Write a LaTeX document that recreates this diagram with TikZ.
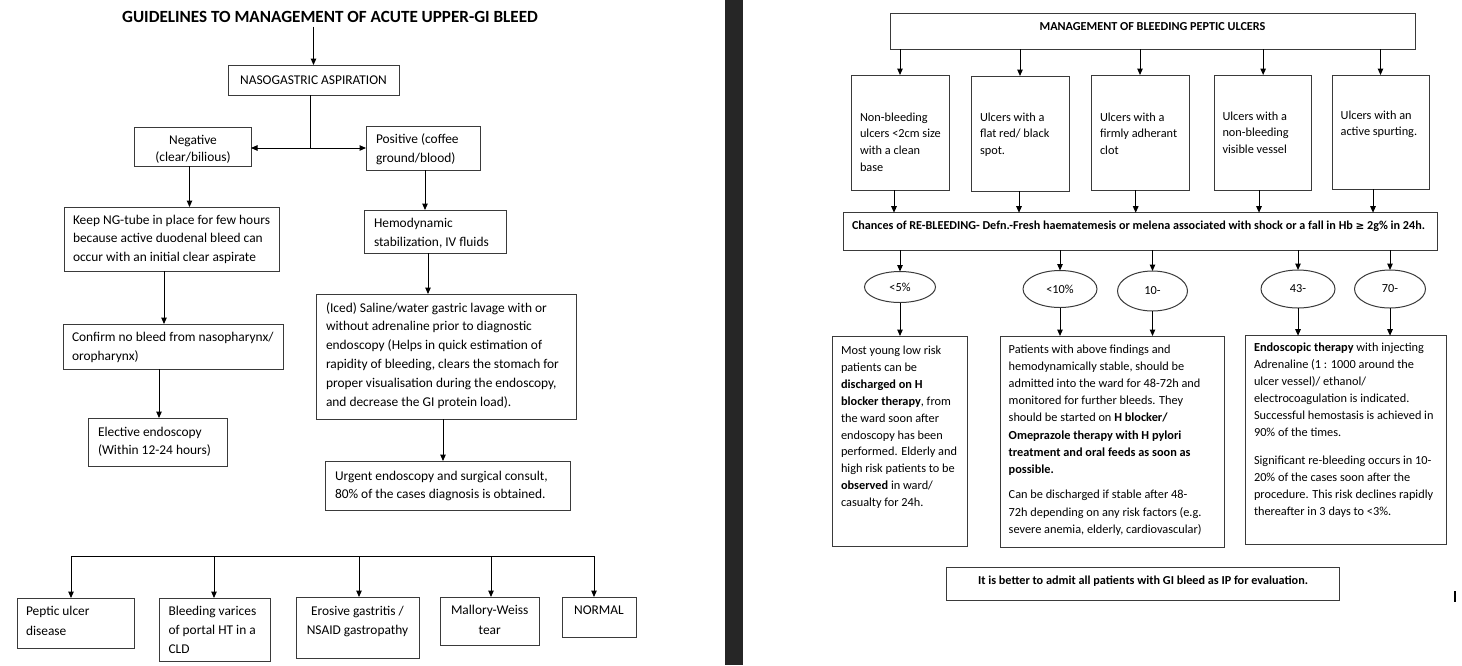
\documentclass[tikz,border=0pt]{standalone}
\usepackage{fontspec}
\setmainfont{Carlito}
\newfontfamily\symfont{DejaVu Sans}
\usetikzlibrary{arrows.meta,shapes.geometric,fit}
\definecolor{boxc}{HTML}{3A3A3A}
\definecolor{barc}{HTML}{262626}
\newcommand\bodyf[1]{\fontsize{13.4}{#1}\selectfont}
\newcommand\rbodyf[1]{\fontsize{12.3}{#1}\selectfont}
\newcommand\mybox[5]{\path (#2,#3) coordinate (#1-nw) (#4,#5) coordinate (#1-se); \node[box, fit=(#1-nw)(#1-se)] (#1) {};}
\begin{document}
\begin{tikzpicture}[x=1pt,y=-1pt,
 box/.style={draw=boxc,line width=1pt,inner sep=0pt,outer sep=0pt},
 arr/.style={draw=black,line width=1pt,-{Triangle[length=6.5pt,width=5.5pt]}},
 dbl/.style={draw=black,line width=1pt,{Triangle[length=6.5pt,width=5.5pt]}-{Triangle[length=6.5pt,width=5.5pt]}},
 ln/.style={draw=black,line width=1pt},
 tl/.style={inner sep=0pt,outer sep=0pt,anchor=base west,align=left},
 tc/.style={inner sep=0pt,outer sep=0pt,anchor=base,align=center},
 oval/.style={ellipse,draw=boxc,line width=1pt,inner sep=0pt,outer sep=0pt,font=\rbodyf{16}}
]
\useasboundingbox (0,0) rectangle (1462,665);
\fill[white] (0,0) rectangle (1462,665);
\fill[barc] (725,0) rectangle (743,665);

% ---------------- LEFT ----------------
% (text nodes are placed at the baseline of their LAST line)
\node[tc,font=\bfseries\fontsize{17.1}{20}\selectfont] (ttl) at (330,22.5) {GUIDELINES TO MANAGEMENT OF ACUTE UPPER-GI BLEED};

\mybox{naso}{228}{65}{399}{95}
\node[tc,font=\bodyf{16}] (tnaso) at (313.5,84) {NASOGASTRIC ASPIRATION};

\mybox{neg}{134.5}{127}{251}{166}
\node[tc,font=\bodyf{16.5}] (tneg) at (193,161) {Negative\\(clear/bilious)};

\mybox{pos}{366}{126}{480}{170}
\node[tl,font=\bodyf{19}] (tpos) at (376,162.5) {Positive (coffee\\ground/blood)};

\mybox{keep}{64}{207}{279}{271}
\node[tl,font=\bodyf{18.6}] (tkeep) at (73,261.2) {Keep NG-tube in place for few hours\\because active duodenal bleed can\\occur with an initial clear aspirate};

\mybox{hemo}{364.5}{210}{506}{253}
\node[tl,font=\bodyf{19}] (themo) at (374,246) {Hemodynamic\\stabilization, IV fluids};

\mybox{conf}{63}{324}{283}{369}
\node[tl,font=\bodyf{19}] (tconf) at (72,360) {Confirm no bleed from nasopharynx/\\oropharynx)};

\mybox{iced}{316.5}{294}{576}{419}
\node[tl,font=\bodyf{18.8}] (ticed) at (326,406) {(Iced) Saline/water gastric lavage with or\\without adrenaline prior to diagnostic\\endoscopy (Helps in quick estimation of\\rapidity of bleeding, clears the stomach for\\proper visualisation during the endoscopy,\\and decrease the GI protein load).};

\mybox{elec}{88.5}{418}{227}{466}
\node[tl,font=\bodyf{18.3}] (telec) at (98,454.3) {Elective endoscopy\\(Within 12-24 hours)};

\mybox{urg}{325}{461}{570}{510}
\node[tl,font=\bodyf{18.7}] (turg) at (335,498.7) {Urgent endoscopy and surgical consult,\\80\% of the cases diagnosis is obtained.};

\mybox{pep}{17}{598}{134.5}{648}
\node[tl,font=\bodyf{20}] (tpep) at (26,635) {Peptic ulcer\\disease};
\mybox{var}{159}{598}{270.5}{661}
\node[tl,font=\bodyf{19}] (tvar) at (168.5,653) {Bleeding varices\\of portal HT in a\\CLD};
\mybox{ero}{296.5}{597}{419}{658}
\node[tc,font=\bodyf{19}] (tero) at (357.5,634) {Erosive gastritis /\\NSAID gastropathy};
\mybox{mal}{440}{597}{539.5}{645}
\node[tc,font=\bodyf{20}] (tmal) at (489.7,634) {Mallory-Weiss\\tear};
\mybox{nor}{562}{597}{636}{637}
\node[tc,font=\bodyf{19}] (tnor) at (599,614) {NORMAL};

% left connectors
\draw[arr] ([yshift=-4pt]ttl.south -| naso.north) -- (naso.north);
\coordinate (j1) at (310.5,148);
\draw[ln] (naso.south -| j1) -- (j1);
\draw[dbl] (neg.east |- j1) -- (pos.west |- j1);
\draw[arr] (neg.south -| 189.5,0) -- (keep.north -| 189.5,0);
\draw[arr] (pos.south -| 425,0) -- (hemo.north -| 425,0);
\draw[arr] (keep.south -| 164,0) -- (conf.north -| 164,0);
\draw[arr] (hemo.south -| 428,0) -- (iced.north -| 428,0);
\draw[arr] (conf.south -| 159,0) -- (elec.north -| 159,0);
\draw[arr] (iced.south -| 443,0) -- (urg.north -| 443,0);

\coordinate (bus1) at (71,556);
\coordinate (bus2) at (214,556);
\coordinate (bus3) at (359,556);
\coordinate (bus4) at (491,556);
\coordinate (bus5) at (594,556);
\draw[ln] (bus1) -- (bus5);
\draw[arr] (bus1) -- (pep.north -| bus1);
\draw[arr] (bus2) -- (var.north -| bus2);
\draw[arr] (bus3) -- (ero.north -| bus3);
\draw[arr] (bus4) -- (mal.north -| bus4);
\draw[arr] (bus5) -- (nor.north -| bus5);

% ---------------- RIGHT ----------------
\mybox{rt}{890}{13}{1415}{49}
\node[tc,font=\bfseries\fontsize{12.2}{14}\selectfont] (trt) at (1152.5,30.5) {MANAGEMENT OF BLEEDING PEPTIC ULCERS};

\mybox{b1}{851}{75}{949}{190}
\node[tl,font=\rbodyf{16.7}] (tb1) at (860,171.1) {Non-bleeding\\ulcers <2cm size\\with a clean\\base};
\mybox{b2}{971}{76}{1069}{191}
\node[tl,font=\rbodyf{16.7}] (tb2) at (980,154.4) {Ulcers with a\\flat red/ black\\spot.};
\mybox{b3}{1091}{75}{1189}{190}
\node[tl,font=\rbodyf{16.7}] (tb3) at (1100,154.4) {Ulcers with a\\firmly adherant\\clot};
\mybox{b4}{1214.6}{75}{1311.7}{190}
\node[tl,font=\rbodyf{16.7}] (tb4) at (1222.5,153.4) {Ulcers with a\\non-bleeding\\visible vessel};
\mybox{b5}{1332}{75}{1429}{189}
\node[tl,font=\rbodyf{16.7}] (tb5) at (1340.6,135.7) {Ulcers with an\\active spurting.};

\mybox{rb}{843.5}{212.7}{1437}{250}
\node[tl,font=\bfseries\fontsize{12.15}{14}\selectfont] (trb) at (852,229.5) {Chances of RE-BLEEDING- Defn.-Fresh haematemesis or melena associated with shock or a fall in Hb {\symfont\fontsize{10.5}{12}\selectfont ≥} 2g\% in 24h.};

\node[oval,minimum width=71pt,minimum height=31pt] (e1) at (900,287) {<5\%};
\node[oval,minimum width=74pt,minimum height=37pt] (e2) at (1060,289) {<10\%};
\node[oval,minimum width=70pt,minimum height=40pt] (e3) at (1152.5,291) {10-};
\node[oval,minimum width=74pt,minimum height=38pt] (e4) at (1298,289) {43-};
\node[oval,minimum width=71pt,minimum height=38pt] (e5) at (1390,289) {70-};

\mybox{ba}{832}{336}{967}{546.7}
\node[tl,font=\rbodyf{16.9}] (tba) at (841,506.6) {Most young low risk\\patients can be\\\textbf{discharged on H}\\\textbf{blocker therapy}, from\\the ward soon after\\endoscopy has been\\performed. Elderly and\\high risk patients to be\\\textbf{observed} in ward/\\casualty for 24h.};
\mybox{bb}{1000}{336}{1224}{547.7}
\node[tl,font=\rbodyf{17.2}] (tbb) at (1008.7,533.3) {Patients with above findings and\\hemodynamically stable, should be\\admitted into the ward for 48-72h and\\monitored for further bleeds. They\\should be started on \textbf{H blocker/}\\\textbf{Omeprazole therapy with H pylori}\\\textbf{treatment and oral feeds as soon as}\\\textbf{possible.}\\[8.3pt]Can be discharged if stable after 48-\\72h depending on any risk factors (e.g.\\severe anemia, elderly, cardiovascular)};
\mybox{bc}{1245.7}{335.7}{1446}{544}
\node[tl,font=\rbodyf{17.1}] (tbc) at (1254,515.9) {\textbf{Endoscopic therapy} with injecting\\Adrenaline (1 : 1000 around the\\ulcer vessel)/ ethanol/\\electrocoagulation is indicated.\\Successful hemostasis is achieved in\\90\% of the times.\\[11pt]Significant re-bleeding occurs in 10-\\20\% of the cases soon after the\\procedure. This risk declines rapidly\\thereafter in 3 days to <3\%.};

\mybox{fin}{946.6}{567}{1339.4}{600.7}
\node[tc,font=\bfseries\fontsize{12.2}{14}\selectfont] (tfin) at (1143,584.5) {It is better to admit all patients with GI bleed as IP for evaluation.};

% right connectors
\foreach \b in {b1,b2,b3,b4,b5}{\draw[arr] (rt.south -| \b.north) -- (\b.north);}
\draw[arr] (b1.south -| 894,0) -- (rb.north -| 894,0);
\draw[arr] (b2.south -| 1019,0) -- (rb.north -| 1019,0);
\draw[arr] (b3.south -| 1135.7,0) -- (rb.north -| 1135.7,0);
\draw[arr] (b4.south -| 1259,0) -- (rb.north -| 1259,0);
\draw[arr] (b5.south -| 1373,0) -- (rb.north -| 1373,0);
\foreach \e in {e1,e2,e3,e4,e5}{\draw[arr] (rb.south -| \e.north) -- (\e.north);}
\draw[arr] (e1.south) -- (ba.north -| e1.south);
\draw[arr] (e2.south) -- (bb.north -| e2.south);
\draw[arr] (e3.south) -- (bb.north -| e3.south);
\draw[arr] (e4.south) -- (bc.north -| e4.south);
\draw[arr] (e5.south) -- (bc.north -| e5.south);

\draw[line width=1.2pt] (1455,591) -- (1455,602);
\end{tikzpicture}
\end{document}
